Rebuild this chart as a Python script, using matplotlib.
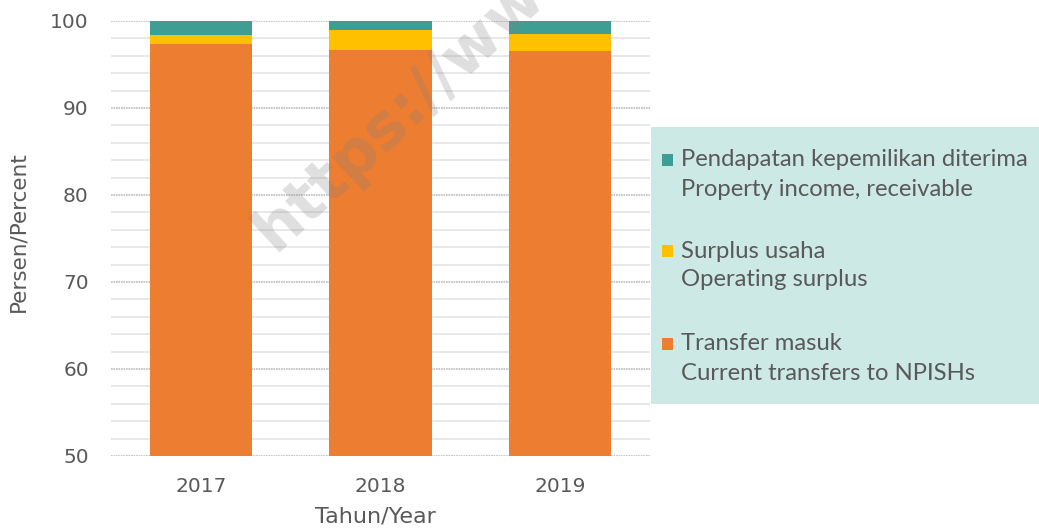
import matplotlib
matplotlib.use('Agg')
import matplotlib.pyplot as plt
from matplotlib.patches import Rectangle
import numpy as np

# data
years = ['2017', '2018', '2019']
transfer = [97.4, 96.7, 96.6]
surplus = [1.0, 2.3, 1.9]
property_inc = [1.6, 1.0, 1.5]

labels = [
    ('Pendapatan kepemilikan diterima', 'Property income, receivable'),
    ('Surplus usaha', 'Operating surplus'),
    ('Transfer masuk', 'Current transfers to NPISHs'),
]
colors = ['#3F9E94', '#FFC000', '#ED7D31']

W, H = 1039, 530
fig = plt.figure(figsize=(W / 100, H / 100), dpi=100)
ax = fig.add_axes([111 / W, 1 - 456 / H, (650 - 111) / W, (456 - 21) / H])

x = np.arange(len(years))
bw = 0.57
b = np.array(transfer)
ax.bar(x, transfer, bw, color=colors[2], zorder=3)
ax.bar(x, surplus, bw, bottom=b, color=colors[1], zorder=3)
b = b + np.array(surplus)
ax.bar(x, property_inc, bw, bottom=b, color=colors[0], zorder=3)

ax.set_ylim(50, 100)
ax.set_xlim(-0.5, 2.5)
ax.set_yticks(np.arange(50, 101, 10))
ax.set_yticks(np.arange(50, 101, 2), minor=True)
ax.grid(axis='y', which='minor', color='#E8E8E8', lw=1.4, zorder=0)
ax.grid(axis='y', which='major', color='#BDBDBD', lw=1.2, ls=(0, (1, 0.5)), zorder=1)
ax.set_xticks(x)
ax.set_xticklabels(years)
for s in ax.spines.values():
    s.set_visible(False)
ax.tick_params(axis='both', which='both', length=0, labelsize=14.5, colors='#595959')
ax.tick_params(axis='x', pad=15)
ax.tick_params(axis='y', pad=16)
ax.set_xlabel('Tahun/Year', fontsize=16, color='#595959', va='center')
ax.xaxis.set_label_coords((375 - 111) / 539, (456 - 516) / 435)
ax.set_ylabel('Persen/Percent', fontsize=15.5, color='#595959', va='center')
ax.yaxis.set_label_coords((18 - 111) / 539, (456 - 232) / 435)

# legend box
fig.patches.append(Rectangle((651 / W, 1 - 404 / H), (W - 651) / W, (404 - 127) / H,
                             transform=fig.transFigure, facecolor='#CCE9E5',
                             edgecolor='none', zorder=5))
rows = [160, 251, 344]
for (l1, l2), c, yy in zip(labels, colors, rows):
    fig.patches.append(Rectangle((662 / W, 1 - (yy + 6) / H), 11 / W, 12 / H,
                                 transform=fig.transFigure, facecolor=c,
                                 edgecolor='none', zorder=6))
    fig.text(681 / W, 1 - yy / H, l1, fontsize=17.2, family='Lato', color='#595959',
             va='center', ha='left', zorder=6)
    fig.text(681 / W, 1 - (yy + 29) / H, l2, fontsize=17.2, family='Lato', color='#595959',
             va='center', ha='left', zorder=6)

# watermark (cut at the top edge, as in the source image)
fig.text(275 / W, 1 - 252 / H, 'https://www', fontsize=45, fontweight='bold',
         color='#808080', alpha=0.25, rotation=43, rotation_mode='anchor',
         ha='left', va='baseline', zorder=10)

fig.savefig('out.png', dpi=100)
